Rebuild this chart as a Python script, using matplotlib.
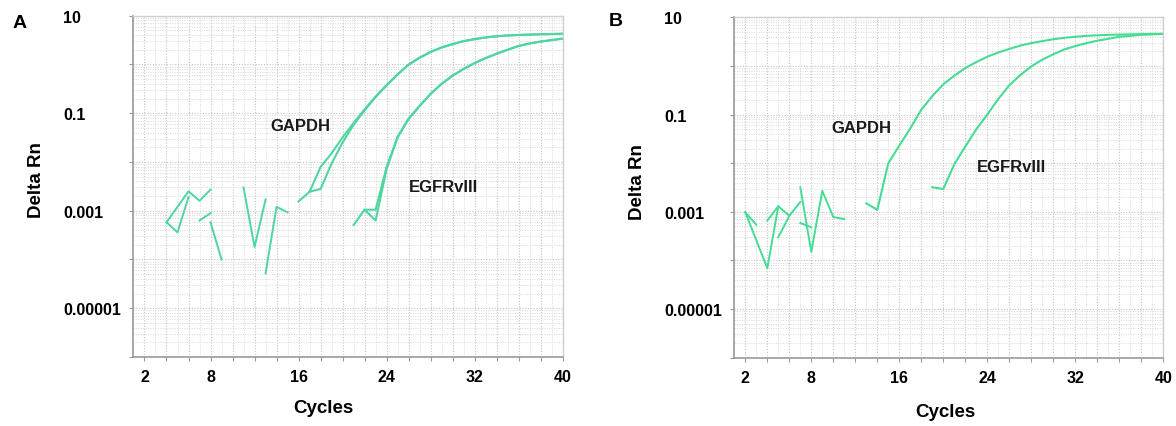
import matplotlib
matplotlib.use('Agg')
import matplotlib.pyplot as plt
from matplotlib.ticker import FixedLocator, NullFormatter, LogLocator

plt.rcParams['font.family'] = ['Liberation Sans', 'DejaVu Sans']

# Panel A: amplification plot (Delta Rn vs cycle), noisy baseline pieces + curves
a_noise = [
    ([4, 5, 6, 7, 8], [5.8e-4, 1.2e-3, 2.5e-3, 1.6e-3, 2.7e-3]),
    ([4, 5, 6], [5.8e-4, 3.6e-4, 1.9e-3]),
    ([7, 8], [6.3e-4, 8.9e-4]),
    ([8, 9], [5.8e-4, 1.0e-4]),
    ([11, 12, 13], [3.0e-3, 1.8e-4, 1.7e-3]),
    ([13, 14, 15], [5.2e-5, 1.2e-3, 9.3e-4]),
]
a_gapdh_1 = (list(range(16, 41)),
             [1.55e-3, 2.45e-3, 7.9e-3, 1.5e-2, 3.2e-2, 6.3e-2, 0.12, 0.22, 0.38, 0.63,
              1.0, 1.38, 1.82, 2.24, 2.63, 3.02, 3.31, 3.59, 3.8, 3.94, 4.03, 4.1, 4.17,
              4.22, 4.27])
a_gapdh_2 = (list(range(17, 41)),
             [2.45e-3, 2.8e-3, 9.3e-3, 2.5e-2, 5.8e-2, 0.115, 0.214, 0.37, 0.62, 0.99,
              1.37, 1.8, 2.22, 2.6, 3.0, 3.3, 3.57, 3.78, 3.92, 4.02, 4.09, 4.16, 4.21,
              4.26])
a_egfr_1 = (list(range(21, 41)),
            [5.1e-4, 1.05e-3, 6.3e-4, 7.2e-3, 3.2e-2, 7.6e-2, 0.14, 0.25, 0.4, 0.59,
             0.81, 1.07, 1.35, 1.66, 2.0, 2.4, 2.69, 2.95, 3.16, 3.39])
a_egfr_2 = (list(range(22, 41)),
            [1.05e-3, 1.05e-3, 7.9e-3, 3.3e-2, 7.8e-2, 0.142, 0.25, 0.4, 0.59, 0.81,
             1.07, 1.35, 1.66, 2.0, 2.4, 2.69, 2.95, 3.16, 3.39])

# Panel B
b_noise = [
    ([2, 3, 4, 5, 6], [9.8e-4, 2.6e-4, 6.9e-5, 1.3e-3, 8.3e-4]),
    ([2, 3], [9.8e-4, 5.4e-4]),
    ([4, 5], [6.6e-4, 1.3e-3]),
    ([5, 6, 7], [3.0e-4, 8.3e-4, 1.6e-3]),
    ([7, 8, 9, 10, 11], [3.2e-3, 1.5e-4, 2.7e-3, 7.8e-4, 7.1e-4]),
    ([7, 8], [5.9e-4, 4.8e-4]),
]
b_gapdh = (list(range(13, 41)),
           [1.5e-3, 1.1e-3, 1.0e-2, 2.3e-2, 5.2e-2, 0.126, 0.24, 0.42, 0.63, 0.91,
            1.2, 1.55, 1.9, 2.24, 2.63, 2.95, 3.24, 3.55, 3.8, 3.98, 4.17, 4.27, 4.37,
            4.42, 4.47, 4.52, 4.57, 4.57])
b_egfr = (list(range(19, 41)),
          [3.2e-3, 2.95e-3, 9.5e-3, 2.2e-2, 5.0e-2, 0.1, 0.21, 0.4, 0.65, 0.98, 1.35,
           1.74, 2.19, 2.57, 2.95, 3.31, 3.63, 3.98, 4.17, 4.37, 4.47, 4.57])

x_ticks = list(range(2, 41, 2))
x_labels = [2, 8, 16, 24, 32, 40]
y_ticks = [1e-6, 1e-5, 1e-4, 1e-3, 1e-2, 1e-1, 1, 10]
y_labels = {10: '10', 0.1: '0.1', 1e-3: '0.001', 1e-5: '0.00001'}

fig = plt.figure(figsize=(11.76, 4.27), dpi=100)
ax_a = fig.add_axes([0.1135, 0.1616, 0.365, 0.7993])
ax_b = fig.add_axes([0.6244, 0.1600, 0.3648, 0.7970])

panels = [
    (ax_a, '#4fd6a0', a_noise, [a_gapdh_1, a_gapdh_2, a_egfr_1, a_egfr_2],
     (16.2, 0.0547), (29.2, 0.0032), (-0.206, 0.52), (0.4415, -0.123)),
    (ax_b, '#45dc94', b_noise, [b_gapdh, b_egfr],
     (12.55, 0.0555), (26.2, 0.0084), (-0.206, 0.52), (0.492, -0.133)),
]

for ax, col, noise, curves, g_pos, e_pos, ylab_pos, xlab_pos in panels:
    ax.set_yscale('log')
    ax.set_xlim(1, 40)
    ax.set_ylim(1e-6, 10)

    for xs, ys in noise:
        ax.plot(xs, ys, color=col, lw=1.4)
    for xs, ys in curves:
        ax.plot(xs, ys, color=col, lw=1.5)

    # grid
    ax.xaxis.set_major_locator(FixedLocator(x_ticks))
    ax.xaxis.set_minor_locator(FixedLocator(list(range(1, 41))))
    ax.yaxis.set_major_locator(FixedLocator(y_ticks))
    ax.yaxis.set_minor_locator(LogLocator(base=10, subs=range(2, 10), numticks=20))
    ax.yaxis.set_minor_formatter(NullFormatter())
    ax.grid(which='major', color='#c4c4c4', ls=(0, (1, 1.5)), lw=0.8)
    ax.grid(which='minor', color='#d8d8d8', ls=(0, (1, 1.5)), lw=0.7)
    ax.set_axisbelow(True)

    ax.set_xticklabels([str(t) if t in x_labels else '' for t in x_ticks])
    ax.set_yticklabels([y_labels.get(t, '') for t in y_ticks])
    for lab in ax.get_yticklabels():
        lab.set_horizontalalignment('left')

    ax.tick_params(which='major', length=3, width=0.8, color='#999999',
                   labelsize=11.5, direction='out')
    ax.tick_params(axis='y', pad=47.5)
    ax.tick_params(axis='x', pad=6)
    ax.tick_params(which='minor', length=0)
    for lab in ax.get_xticklabels() + ax.get_yticklabels():
        lab.set_fontweight('bold')

    for side in ['left', 'bottom']:
        ax.spines[side].set_color('#9a9a9a')
        ax.spines[side].set_linewidth(1.2)
    for side in ['top', 'right']:
        ax.spines[side].set_color('#cfcfcf')
        ax.spines[side].set_linewidth(1.0)

    ax.set_ylabel('Delta Rn', fontsize=13.5, fontweight='bold')
    ax.yaxis.set_label_coords(*ylab_pos)
    ax.set_xlabel('Cycles', fontsize=13.5, fontweight='bold')
    ax.xaxis.set_label_coords(*xlab_pos)

    ax.text(g_pos[0], g_pos[1], 'GAPDH', fontsize=12, fontweight='bold',
            ha='center', va='center', color='#1a1a1a')
    ax.text(e_pos[0], e_pos[1], 'EGFRvIII', fontsize=12, fontweight='bold',
            ha='center', va='center', color='#1a1a1a')

fig.text(20 / 1176, 1 - 23 / 427, 'A', fontsize=14, fontweight='bold',
         ha='center', va='center')
fig.text(616 / 1176, 1 - 22 / 427, 'B', fontsize=14, fontweight='bold',
         ha='center', va='center')

fig.savefig('out.png', dpi=100)
